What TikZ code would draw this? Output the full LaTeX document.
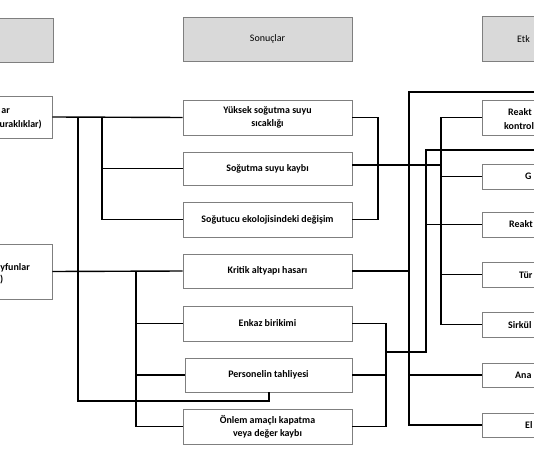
\documentclass[tikz,border=0pt]{standalone}
\usepackage{fontspec}
\setmainfont{Carlito}
\definecolor{boxgray}{HTML}{7F7F7F}
\definecolor{headfill}{HTML}{D9D9D9}
\begin{document}
\begin{tikzpicture}[x=1bp,y=-1bp,
  box/.style={draw=boxgray, line width=0.9bp, fill=white, inner sep=0pt, align=center,
    font=\bfseries\fontsize{10}{13}\selectfont},
  head/.style={draw=boxgray, line width=0.9bp, fill=headfill, inner sep=0pt, align=center,
    font=\fontsize{10}{13}\selectfont},
  lbl/.style={inner sep=0pt, font=\bfseries\fontsize{10}{13}\selectfont},
  hlbl/.style={inner sep=0pt, font=\fontsize{10}{13}\selectfont},
  conn/.style={line width=1.4bp, black}]
\useasboundingbox (0,0) rectangle (534,462);
\clip (0,0) rectangle (534,462);

% middle column
\node[head, minimum width=169bp, minimum height=44bp] (Son) at (267.5,39) {Sonuçlar};
\node[box, minimum width=169bp, minimum height=35bp] (Yuk) at (267.5,117.5) {Yüksek soğutma suyu\\sıcaklığı};
\node[box, minimum width=169bp, minimum height=33bp] (Sogutma) at (267.5,168.5) {Soğutma suyu kaybı};
\node[box, minimum width=169bp, minimum height=35bp] (Sogutucu) at (267.5,219.5) {Soğutucu ekolojisindeki değişim};
\node[box, minimum width=169bp, minimum height=34bp] (Kritik) at (267.5,271) {Kritik altyapı hasarı};
\node[box, minimum width=169bp, minimum height=35bp] (Enkaz) at (267.5,323.5) {Enkaz birikimi};
\node[box, minimum width=167bp, minimum height=34bp] (Pers) at (268.5,375) {Personelin tahliyesi};
\node[box, minimum width=169bp, minimum height=35bp] (Onlem) at (267.5,426.5) {Önlem amaçlı kapatma\\veya değer kaybı};

% left column (cut by the picture edge)
\node[head, minimum width=153bp, minimum height=44bp] (LH) at (-23.5,40) {};
\node[box, minimum width=152bp, minimum height=42bp] (L1) at (-24,117) {};
\node[box, minimum width=152bp, minimum height=55bp] (L2) at (-24,271.5) {};
\node[lbl, anchor=base east] (L1a) at (10,113.5) {ar};
\node[lbl, anchor=base east] (L1b) at (42,127.5) {uraklıklar)};
\node[lbl, anchor=base east] (L2a) at (30,270.5) {yfunlar};
\node[lbl, anchor=base east] (L2b) at (3.5,282.5) {)};

% right column (cut by the picture edge)
\node[head, minimum width=158bp, minimum height=45bp] (RH) at (561,38.5) {};
\node[box, minimum width=158bp, minimum height=35bp] (RK1) at (561,117.5) {};
\node[box, minimum width=158bp, minimum height=25bp] (G) at (561,176.5) {};
\node[box, minimum width=158bp, minimum height=25bp] (RK2) at (561,224.5) {};
\node[box, minimum width=158bp, minimum height=25bp] (Tur) at (561,274.5) {};
\node[box, minimum width=158bp, minimum height=25bp] (Sirk) at (561,324.5) {};
\node[box, minimum width=158bp, minimum height=24bp] (Ana) at (561,375) {};
\node[box, minimum width=158bp, minimum height=24bp] (El) at (561,425) {};
\node[hlbl, anchor=base west] (RHt) at (517,42.5) {Etk};
\node[lbl, anchor=base west] (RK1a) at (508,115.5) {Reakt};
\node[lbl, anchor=base west] (RK1b) at (504,129.5) {kontrol};
\node[lbl, anchor=base west] (Gt) at (525,180) {G};
\node[lbl, anchor=base west] (RK2t) at (509,228) {Reakt};
\node[lbl, anchor=base west] (Turt) at (519,278) {Tür};
\node[lbl, anchor=base west] (Sirkt) at (508,328) {Sirkül};
\node[lbl, anchor=base west] (Anat) at (515,378.5) {Ana};
\node[lbl, anchor=base west] (Elt) at (525,428.5) {El};

% bus positions
\coordinate (bA) at (78,0);
\coordinate (bB) at (102,0);
\coordinate (bC) at (136,0);
\coordinate (bD) at (378,0);
\coordinate (bE) at (386,0);
\coordinate (bF) at (409,0);
\coordinate (bG) at (426,0);
\coordinate (bH) at (441,0);
\coordinate (pP) at (269,401);
\coordinate (jj) at (0,352);
\coordinate (eF) at (545,92);
\coordinate (eG) at (545,150);

% left connectors
\draw[conn] (L1.east) -- (Yuk.west);
\draw[conn] (L1.east -| bB) |- (Sogutucu.west);
\draw[conn] (Sogutma.west -| bB) -- (Sogutma.west);
\draw[conn] (L1.east -| bA) |- (pP) -- (Pers.south -| pP);
\draw[conn] (L2.east) -- (Kritik.west);
\draw[conn] (L2.east -| bC) |- (Onlem.west);
\draw[conn] (Enkaz.west -| bC) -- (Enkaz.west);
\draw[conn] (Pers.west -| bC) -- (Pers.west);

% right connectors
\draw[conn] (Yuk.east) -- (Yuk.east -| bD) |- (Sogutucu.east);
\draw[conn] ([yshift=3.5bp]Sogutma.east) coordinate (sR) -- (sR -| bH);
\draw[conn] (RK1.west) -| (Sirk.west -| bH) -- (Sirk.west);
\draw[conn] (G.west -| bH) -- (G.west);
\draw[conn] (Tur.west -| bH) -- (Tur.west);
\draw[conn] (Kritik.east) -| (eF -| bF) -- (eF);
\draw[conn] (Kritik.east -| bF) |- (El.west);
\draw[conn] (Ana.west -| bF) -- (Ana.west);
\draw[conn] (eG) -| (jj -| bG) -- (jj -| bE);
\draw[conn] (RK2.west -| bG) -- (RK2.west);
\draw[conn] (Enkaz.east) -- (Enkaz.east -| bE) |- (Onlem.east);
\draw[conn] (Pers.east) -- (Pers.east -| bE);
\end{tikzpicture}
\end{document}
